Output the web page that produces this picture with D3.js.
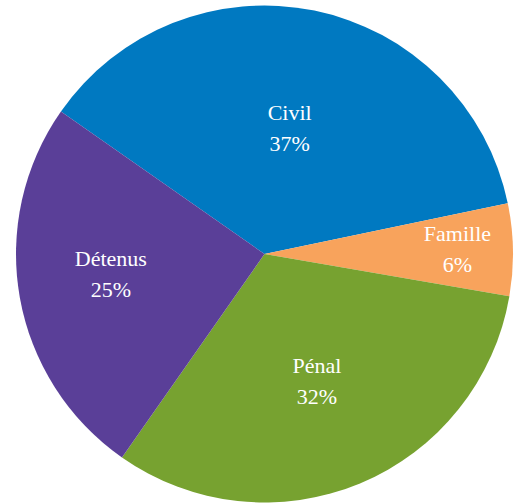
<!DOCTYPE html>
<html>
<head>
<meta charset="utf-8">
<script src="https://cdn.jsdelivr.net/npm/d3@7"></script>
<style>
  body { margin: 0; background: #fff; }
  svg { display: block; }
</style>
</head>
<body>
<div id="chart"></div>
<script>
// Chart data
var categories = ["Civil", "Famille", "Pénal", "Détenus"];
var shares = [37, 6, 32, 25];
var colors = ["#0079c1", "#f8a35c", "#77a230", "#5a3f98"];

var width = 514, height = 504;
var cx = 264.5, cy = 254, radius = 248.5;

// label distance from the centre, per slice (small slice pushed outward)
var labelRadius = [130, 193, 134, 153];
// small manual nudges so labels sit where the original put them
var labelNudge = [[-1, 0], [0, -2.5], [1, 2], [-3, -8]];

var svg = d3.select("#chart")
    .append("svg")
    .attr("width", width)
    .attr("height", height);

var g = svg.append("g")
    .attr("transform", `translate(${cx}, ${cy})`);

var startAngle = -55 * Math.PI / 180;
var pie = d3.pie()
    .sort(null)
    .startAngle(startAngle)
    .endAngle(startAngle + 2 * Math.PI)
    .value(d => d);

var arcs = pie(shares);

var arc = d3.arc().innerRadius(0).outerRadius(radius);

g.selectAll("path.slice")
    .data(arcs)
    .enter()
    .append("path")
    .attr("class", "slice")
    .attr("d", arc)
    .attr("fill", (d, i) => colors[i]);

// Labels
var labels = g.selectAll("text.label")
    .data(arcs)
    .enter()
    .append("text")
    .attr("class", "label")
    .attr("transform", (d, i) => {
        var c = d3.arc().innerRadius(labelRadius[i]).outerRadius(labelRadius[i]).centroid(d);
        return `translate(${c[0] + labelNudge[i][0]}, ${c[1] + labelNudge[i][1]})`;
    })
    .attr("text-anchor", "middle")
    .attr("fill", "#fff")
    .style("font-family", "'Liberation Serif', 'DejaVu Serif', serif")
    .style("font-size", "22px");

labels.append("tspan")
    .attr("x", 0)
    .attr("y", -7)
    .text((d, i) => categories[i]);

labels.append("tspan")
    .attr("x", 0)
    .attr("y", 24)
    .text(d => d.data + "%");
</script>
</body>
</html>
